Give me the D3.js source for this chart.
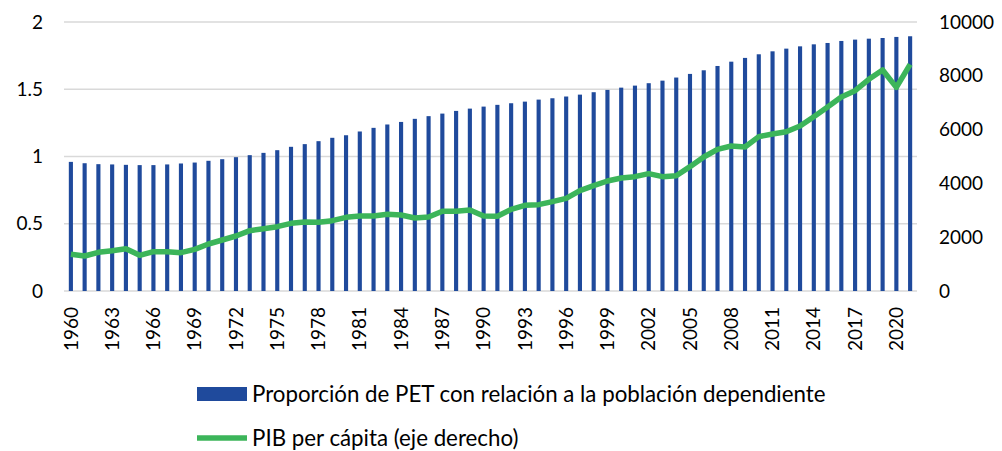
<!DOCTYPE html>
<meta charset="utf-8">
<style>
body { margin: 0; background: #fff; }
text { font-family: Lato, "Liberation Sans", sans-serif; fill: #000; }
.grid line { stroke: #d9d9d9; stroke-width: 1.3px; }
</style>
<svg width="1002" height="451"></svg>
<script src="https://d3js.org/d3.v7.min.js"></script>
<script>

var years = d3.range(1960, 2022);

var petRatio = [0.960, 0.950, 0.943, 0.941, 0.938, 0.936, 0.936, 0.941, 0.948, 0.955,
  0.968, 0.980, 0.995, 1.010, 1.027, 1.047, 1.072, 1.092, 1.114, 1.139,
  1.158, 1.186, 1.213, 1.238, 1.257, 1.280, 1.300, 1.319, 1.339, 1.356,
  1.371, 1.384, 1.396, 1.408, 1.423, 1.433, 1.446, 1.460, 1.478, 1.495,
  1.512, 1.527, 1.545, 1.564, 1.587, 1.614, 1.641, 1.673, 1.705, 1.733,
  1.760, 1.782, 1.802, 1.819, 1.834, 1.844, 1.859, 1.869, 1.876, 1.881,
  1.889, 1.894];

var pibPerCapita = [1363, 1301, 1437, 1499, 1574, 1326, 1462, 1462, 1425, 1549,
  1747, 1896, 2045, 2243, 2317, 2392, 2515, 2565, 2553, 2615,
  2739, 2788, 2788, 2850, 2825, 2714, 2751, 2962, 2962, 3011,
  2788, 2776, 3036, 3185, 3209, 3321, 3445, 3730, 3916, 4089,
  4201, 4250, 4362, 4250, 4287, 4622, 4981, 5266, 5390, 5353,
  5737, 5836, 5923, 6134, 6481, 6840, 7212, 7447, 7869, 8216,
  7571, 8426];

var leftTicks = [0, 0.5, 1, 1.5, 2];
var rightTicks = [0, 2000, 4000, 6000, 8000, 10000];
var yearLabels = years.filter(function(y) { return (y - 1960) % 3 == 0; });

var seriesNames = ["Proporción de PET con relación a la población dependiente",
  "PIB per cápita (eje derecho)"];

var barColor = "#1f4a9c",
    lineColor = "#3cb55a";

var svg = d3.select("svg");

var x = d3.scaleBand()
    .domain(years)
    .range([64, 917])
    .paddingInner(0.7)
    .paddingOuter(0.35);

var yLeft = d3.scaleLinear().domain([0, 2]).range([291, 22]);
var yRight = d3.scaleLinear().domain([0, 10000]).range([291, 22]);

// gridlines
svg.append("g")
    .attr("class", "grid")
  .selectAll("line")
  .data(leftTicks)
  .enter().append("line")
    .attr("x1", 64)
    .attr("x2", 917)
    .attr("y1", function(d) { return yLeft(d); })
    .attr("y2", function(d) { return yLeft(d); });

// bars
svg.append("g")
  .selectAll("rect")
  .data(years)
  .enter().append("rect")
    .attr("x", function(d) { return x(d); })
    .attr("width", x.bandwidth())
    .attr("y", function(d, i) { return yLeft(petRatio[i]); })
    .attr("height", function(d, i) { return yLeft(0) - yLeft(petRatio[i]); })
    .attr("fill", barColor);

// line
var line = d3.line()
    .x(function(d, i) { return x(years[i]) + x.bandwidth() / 2; })
    .y(function(d) { return yRight(d); });

svg.append("path")
    .datum(pibPerCapita)
    .attr("d", line)
    .attr("fill", "none")
    .attr("stroke", lineColor)
    .attr("stroke-width", 5.5)
    .attr("stroke-linejoin", "round");

// left axis labels
svg.append("g")
  .selectAll("text")
  .data(leftTicks)
  .enter().append("text")
    .attr("x", 43)
    .attr("y", function(d) { return yLeft(d); })
    .attr("dy", "0.35em")
    .attr("text-anchor", "end")
    .style("font-size", "19px")
    .text(function(d) { return d; });

// right axis labels
svg.append("g")
  .selectAll("text")
  .data(rightTicks)
  .enter().append("text")
    .attr("x", 939)
    .attr("y", function(d) { return yRight(d); })
    .attr("dy", "0.35em")
    .style("font-size", "19px")
    .text(function(d) { return d; });

// year labels
svg.append("g")
  .selectAll("text")
  .data(yearLabels)
  .enter().append("text")
    .attr("transform", function(d) {
      return "translate(" + (x(d) + x.bandwidth() / 2) + ",307) rotate(-90)";
    })
    .attr("dy", "0.35em")
    .attr("text-anchor", "end")
    .style("font-size", "19px")
    .text(function(d) { return d; });

// legend
var legend = svg.append("g");

legend.append("rect")
    .attr("x", 197)
    .attr("y", 387)
    .attr("width", 50)
    .attr("height", 14)
    .attr("fill", barColor);

legend.append("line")
    .attr("x1", 197)
    .attr("x2", 247)
    .attr("y1", 438)
    .attr("y2", 438)
    .attr("stroke", lineColor)
    .attr("stroke-width", 5.5);

legend.selectAll("text")
  .data(seriesNames)
  .enter().append("text")
    .attr("x", 252)
    .attr("y", function(d, i) { return i == 0 ? 394 : 438; })
    .attr("dy", "0.35em")
    .style("font-size", "22.3px")
    .text(function(d) { return d; });

</script>
